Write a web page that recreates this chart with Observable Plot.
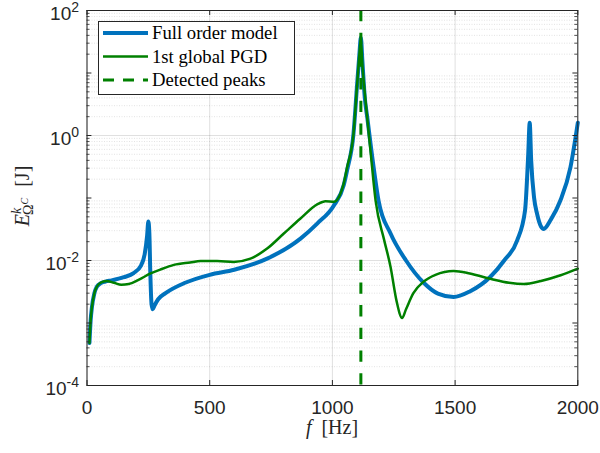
<!DOCTYPE html>
<html><head><meta charset="utf-8">
<script src="https://cdn.jsdelivr.net/npm/d3@7"></script>
<script src="https://cdn.jsdelivr.net/npm/@observablehq/plot@0.6"></script>
<style>body{margin:0;background:#fff}#chart{width:600px;height:453px}</style>
</head><body><div id="chart"></div>
<script>
const seriesNames = ["Full order model", "1st global PGD", "Detected peaks"];
const freqFull = [10,15,20,30,40,55,75,100,150,190,220,235,245,250,254,258,263,268,275,290,320,400,500,600,734,870,938,1006,1046,1060,1086,1101,1110,1116,1122,1132,1142,1168,1188,1237,1300,1372,1430,1494,1560,1644,1700,1753,1785,1798,1804,1810,1822,1834,1850,1861,1890,1929,1970,2000];
const energyFull = [4.8e-4,1.12e-3,1.78e-3,3.0e-3,3.8e-3,4.3e-3,4.6e-3,4.8e-3,5.4e-3,6.3e-3,8.3e-3,1.26e-2,2.5e-2,4.2e-2,2.8e-2,6.3e-3,2.0e-3,1.66e-3,1.9e-3,2.4e-3,3.0e-3,4.4e-3,5.9e-3,7.1e-3,1.07e-2,2.24e-2,3.9e-2,7.6e-2,0.16,0.28,1.07,6.8,20,37,16,4.0,1.95,0.31,9.1e-2,2.7e-2,1.0e-2,4.4e-3,2.95e-3,2.6e-3,3.2e-3,5.5e-3,1.0e-2,2.1e-2,6.3e-2,0.5,1.6,0.4,0.1,5.6e-2,3.5e-2,3.2e-2,4.5e-2,9.1e-2,0.31,1.6];
const freqPGD = [10,15,20,30,40,55,80,110,140,170,210,259,300,354,420,463,530,598,666,734,802,870,938,972,1006,1046,1060,1086,1101,1110,1116,1122,1135,1155,1176,1210,1237,1262,1284,1300,1330,1372,1420,1494,1560,1644,1720,1780,1850,1930,2000];
const energyPGD = [4.8e-4,1.12e-3,1.78e-3,3.0e-3,3.8e-3,4.4e-3,4.7e-3,4.4e-3,4.1e-3,4.2e-3,4.9e-3,6.2e-3,7.2e-3,8.5e-3,9.3e-3,9.8e-3,9.8e-3,9.5e-3,1.07e-2,1.55e-2,2.7e-2,4.7e-2,7.9e-2,8.9e-2,8.7e-2,0.17,0.31,1.07,6.8,20,35,14,3.6,0.58,9.1e-2,2.2e-2,7.9e-3,2.2e-3,1.2e-3,1.66e-3,3.0e-3,4.6e-3,5.9e-3,6.8e-3,6.2e-3,5.1e-3,4.4e-3,4.2e-3,4.7e-3,5.8e-3,7.4e-3];
const detectedPeaks = [1116];
const xTicks = [0, 500, 1000, 1500, 2000];
const xTickLabels = ["0", "500", "1000", "1500", "2000"];
const yTicks = [1e-4, 1e-2, 1e0, 1e2];
const yTickLabels = ["10^-4", "10^-2", "10^0", "10^2"];
const yDecades = [1e-4, 1e-3, 1e-2, 1e-1, 1e0, 1e1, 1e2];
const minorMultipliers = [2,3,4,5,6,7,8,9];

const BLUE = "#0072BD", GREEN = "#008000", AX = "#262626";
const SANS = "Liberation Sans, Arial, Helvetica, sans-serif";
const SERIF = "Liberation Serif, Times New Roman, serif";
const DASH = "11.3,11.4";

const full = freqFull.map((f, i) => ({f, e: energyFull[i]}));
const pgd = freqPGD.map((f, i) => ({f, e: energyPGD[i]}));
const yMinor = yDecades.slice(0, -1).flatMap(d => minorMultipliers.map(m => m * d));
const yMajor = yDecades;

const tickF = 10 ** (5 / 62.6);

const plot = Plot.plot({
  width: 600, height: 453,
  marginLeft: 86.5, marginRight: 22.7, marginTop: 10, marginBottom: 68,
  x: {domain: [0, 2000], axis: null},
  y: {type: "log", domain: [1e-4, 1e2], axis: null},
  marks: [
    Plot.ruleY(yMinor, {stroke: AX, strokeOpacity: 0.22, strokeWidth: 0.6, strokeDasharray: "1,1.5"}),
    Plot.ruleY(yMajor.filter(d => [1e-2, 1e0].includes(d)), {stroke: AX, strokeOpacity: 0.14}),
    Plot.ruleX(xTicks, {stroke: AX, strokeOpacity: 0.14}),
    Plot.line(full, {x: "f", y: "e", stroke: BLUE, strokeWidth: 4, curve: "monotone-x"}),
    Plot.line(pgd, {x: "f", y: "e", stroke: GREEN, strokeWidth: 2.5, curve: "monotone-x"}),
    Plot.ruleX(detectedPeaks, {stroke: GREEN, strokeWidth: 3, strokeDasharray: DASH}),
    Plot.frame({stroke: AX, strokeWidth: 1}),
    Plot.ruleX(xTicks, {y1: 1e-4, y2: 1e-4 * tickF, stroke: AX}),
    Plot.ruleX(xTicks, {y1: 1e2 / tickF, y2: 1e2, stroke: AX}),
    Plot.ruleY(yMajor, {x1: 0, x2: 20, stroke: AX}),
    Plot.ruleY(yMajor, {x1: 1980, x2: 2000, stroke: AX}),
    Plot.ruleY(yMinor, {x1: 0, x2: 12, stroke: AX, strokeWidth: 0.8}),
    Plot.ruleY(yMinor, {x1: 1988, x2: 2000, stroke: AX, strokeWidth: 0.8}),
    Plot.text(xTicks, {x: d => d, y: 1e-4, dy: 22, text: (d, i) => xTickLabels[i], fontSize: 19, fill: AX, fontFamily: SANS}),
    Plot.text(yTicks, {x: 0, y: d => d, dx: -8, dy: 3.5, textAnchor: "end", text: (d, i) => yTickLabels[i], fontSize: 19, fill: AX, fontFamily: SANS})
  ]
});
document.getElementById("chart").appendChild(plot);

const svg = d3.select(plot);
svg.selectAll("text").filter(function() { return this.textContent.includes("^"); }).each(function() {
  const t = d3.select(this);
  const [base, exp] = t.text().split("^");
  t.text(null);
  t.append("tspan").text(base);
  t.append("tspan").attr("dy", -8.5).attr("font-size", 14).text(exp);
});

// axis titles
const yl = svg.append("text").attr("transform", "translate(29,196) rotate(-90)")
  .attr("text-anchor", "middle").attr("font-family", SERIF).attr("font-size", 20).attr("fill", AX);
yl.append("tspan").attr("font-style", "italic").text("E");
yl.append("tspan").attr("font-style", "italic").attr("font-size", 14).attr("dy", -8).text("k");
yl.append("tspan").attr("font-size", 14).attr("dy", 12).attr("dx", -7).text("Ω");
yl.append("tspan").attr("font-style", "italic").attr("font-size", 10).attr("dy", -5).text("C");
yl.append("tspan").attr("dy", 1).attr("dx", 1).text("\u00a0\u00a0[J]");

const xl = svg.append("text").attr("x", 332).attr("y", 434)
  .attr("text-anchor", "middle").attr("font-family", SERIF).attr("font-size", 20).attr("fill", AX);
xl.append("tspan").attr("font-style", "italic").text("f");
xl.append("tspan").text("\u00a0\u00a0[Hz]");

// legend
const lg = svg.append("g").attr("text-anchor", "start");
lg.append("rect").attr("x", 98.5).attr("y", 21.5).attr("width", 196).attr("height", 73)
  .attr("fill", "#fff").attr("stroke", AX).attr("stroke-width", 1);
const styles = [
  {stroke: BLUE, w: 4, dash: null},
  {stroke: GREEN, w: 2.5, dash: null},
  {stroke: GREEN, w: 3, dash: "11,9"}
];
seriesNames.forEach((name, i) => {
  const y = 33 + i * 23.5;
  const s = styles[i];
  lg.append("line").attr("x1", 103).attr("x2", 148).attr("y1", y).attr("y2", y)
    .attr("stroke", s.stroke).attr("stroke-width", s.w).attr("stroke-dasharray", s.dash);
  lg.append("text").attr("x", 152).attr("y", y + 6).attr("text-anchor", "start").attr("font-family", SERIF)
    .attr("font-size", 18.7).attr("fill", "#000").text(name);
});
</script></body></html>
